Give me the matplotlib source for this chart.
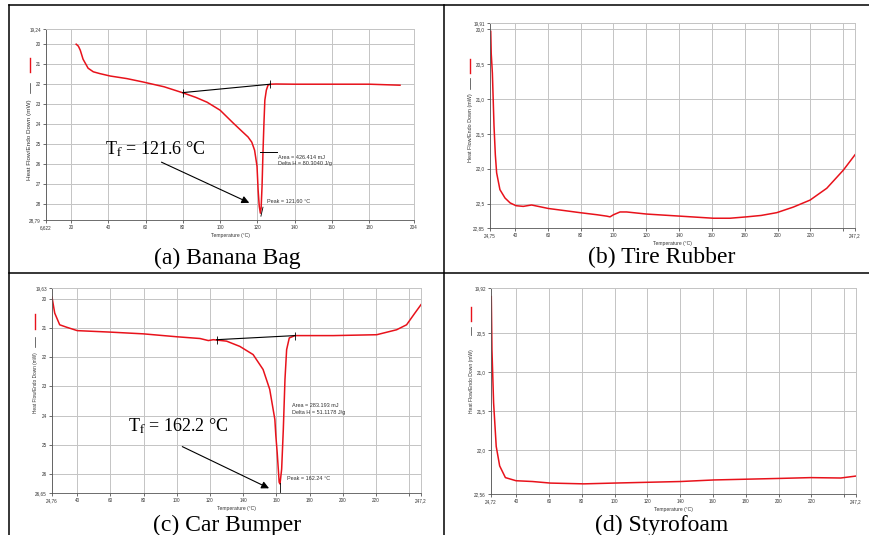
import matplotlib
matplotlib.use("Agg")
import matplotlib.pyplot as plt
from matplotlib.lines import Line2D

plt.rcParams['font.family'] = ['Liberation Sans', 'DejaVu Sans']
plt.rcParams['mathtext.fontset'] = 'stix'

W, H = 870, 535

# ---- (a) Banana Bag ----
a_temp = [22.8, 23.3, 24.0, 25.0, 26.5, 28.0, 29.2, 32.0, 35.5, 41.0, 50.0, 58.7, 70.0, 80.0,
          87.0, 93.0, 100.0, 107.0, 112.0, 115.0, 117.0, 118.5, 119.8, 120.4, 121.0, 121.6,
          122.0, 122.5, 123.0, 123.5, 124.0, 124.8, 125.7, 127.0, 130.0, 140.0, 160.0, 180.0, 196.5]
a_flow = [20.0, 20.04, 20.1, 20.3, 20.75, 21.0, 21.2, 21.38, 21.47, 21.59, 21.72, 21.89, 22.13, 22.43,
          22.66, 22.9, 23.3, 23.94, 24.38, 24.64, 24.9, 25.3, 26.1, 27.3, 28.1, 28.45,
          28.2, 27.1, 25.4, 24.0, 22.8, 22.3, 22.05, 22.0, 21.99, 22.0, 22.0, 22.0, 22.05]
a_base_t = [80.0, 127.0]
a_base_f = [22.42, 22.0]
a_xticks = [6.622, 20, 40, 60, 80, 100, 120, 140, 160, 180, 204]
a_xlabels = ['6,622', '20', '40', '60', '80', '100', '120', '140', '160', '180', '204']
a_yticks = [19.24, 20, 21, 22, 23, 24, 25, 26, 27, 28, 28.79]
a_ylabels = ['19,24', '20', '21', '22', '23', '24', '25', '26', '27', '28', '28,79']

# ---- (b) Tire Rubber ----
b_temp = [25.2, 25.5, 26.2, 27.2, 28.0, 28.8, 30.8, 33.9, 37.0, 40.6, 45.0, 50.1, 60.3, 70.0,
          79.6, 90.0, 95.9, 97.9, 100.0, 104.0, 108.0, 120.2, 140.6, 160.9, 171.0, 181.2,
          190.0, 199.5, 209.6, 219.8, 230.0, 240.1, 247.2]
b_flow = [20.03, 20.35, 20.63, 21.39, 21.8, 22.06, 22.30, 22.42, 22.49, 22.53, 22.54, 22.52, 22.57, 22.60,
          22.63, 22.66, 22.68, 22.69, 22.66, 22.62, 22.62, 22.65, 22.68, 22.71, 22.71, 22.69,
          22.67, 22.63, 22.55, 22.45, 22.28, 22.02, 21.80]
b_xticks = [24.75, 40, 60, 80, 100, 120, 140, 160, 180, 200, 220, 240, 247.2]
b_xlabels = ['24,75', '40', '60', '80', '100', '120', '140', '160', '180', '200', '220', '', '247,2']
b_yticks = [19.91, 20.0, 20.5, 21.0, 21.5, 22.0, 22.5, 22.85]
b_ylabels = ['19,91', '20,0', '20,5', '21,0', '21,5', '22,0', '22,5', '22,85']

# ---- (c) Car Bumper ----
c_temp = [24.76, 26.4, 29.4, 33.4, 40.0, 59.7, 79.8, 100.0, 114.0, 119.0, 122.0, 130.0, 138.0,
          146.0, 152.0, 156.0, 159.1, 159.7, 160.5, 161.7, 162.2, 163.2, 164.2, 165.2, 166.2,
          167.8, 171.2, 194.3, 220.5, 232.5, 238.5, 243.5, 247.2]
c_flow = [19.94, 20.49, 20.89, 20.97, 21.09, 21.14, 21.2, 21.3, 21.36, 21.43, 21.40, 21.45, 21.63,
          21.91, 22.42, 23.1, 24.13, 24.69, 25.26, 26.28, 26.34, 25.83, 24.47, 22.76, 21.74,
          21.34, 21.26, 21.26, 21.23, 21.06, 20.89, 20.49, 20.2]
c_base_t = [124.0, 171.2]
c_base_f = [21.40, 21.26]
c_xticks = [24.76, 40, 60, 80, 100, 120, 140, 160, 180, 200, 220, 240, 247.2]
c_xlabels = ['24,76', '40', '60', '80', '100', '120', '140', '160', '180', '200', '220', '', '247,2']
c_yticks = [19.63, 20, 21, 22, 23, 24, 25, 26, 26.65]
c_ylabels = ['19,63', '20', '21', '22', '23', '24', '25', '26', '26,65']

# ---- (d) Styrofoam ----
d_temp = [24.9, 25.3, 26.3, 27.9, 30.0, 33.5, 40.0, 50.0, 60.9, 81.3, 99.6, 120.0, 140.3,
          160.6, 181.0, 201.3, 219.6, 237.9, 247.2]
d_flow = [20.03, 20.71, 21.39, 21.95, 22.2, 22.35, 22.39, 22.40, 22.42, 22.43, 22.42, 22.41, 22.40,
          22.38, 22.37, 22.36, 22.35, 22.355, 22.33]
d_xticks = [24.72, 40, 60, 80, 100, 120, 140, 160, 180, 200, 220, 240, 247.2]
d_xlabels = ['24,72', '40', '60', '80', '100', '120', '140', '160', '180', '200', '220', '', '247,2']
d_yticks = [19.92, 20.5, 21.0, 21.5, 22.0, 22.56]
d_ylabels = ['19,92', '20,5', '21,0', '21,5', '22,0', '22,56']

captions = ['(a) Banana Bag', '(b) Tire Rubber', '(c) Car Bumper', '(d) Styrofoam']

RED = '#e8121b'
GRID = '#c4c4c4'


def px_box(l, r, t, b):
    return [l / W, 1 - b / H, (r - l) / W, (b - t) / H]


def setup(ax, xt, xl, yt, yl, lab_x, lab_y, lab_fs, seg_b, seg_r):
    ax.set_xlim(xt[0], xt[-1])
    ax.set_ylim(yt[-1], yt[0])   # endo down: axis runs top->bottom
    ax.set_xticks(xt)
    ax.set_xticklabels(xl)
    ax.set_yticks(yt)
    ax.set_yticklabels(yl)
    ax.tick_params(labelsize=3.3, length=2.5, width=0.5, pad=1.2, colors='#333333')
    ax.grid(True, color=GRID, lw=0.7)
    ax.set_axisbelow(True)
    for s in ['top', 'right']:
        ax.spines[s].set_color(GRID)
        ax.spines[s].set_linewidth(0.7)
    for s in ['left', 'bottom']:
        ax.spines[s].set_color('#555555')
        ax.spines[s].set_linewidth(0.6)
    ax.set_xlabel('Temperature (°C)', fontsize=3.6, labelpad=2, color='#333333')
    ax.text(lab_x, lab_y, 'Heat Flow/Endo Down (mW)', transform=ax.transAxes, rotation=90,
            fontsize=lab_fs, ha='center', va='center', color='#333333')
    ax.plot([lab_x, lab_x], seg_b, transform=ax.transAxes, color='#333333', lw=0.5, clip_on=False)
    ax.plot([lab_x, lab_x], seg_r, transform=ax.transAxes, color=RED, lw=1.0, clip_on=False)


fig = plt.figure(figsize=(W / 100, H / 100), dpi=100)

# table frame
for (x0, x1, y0, y1) in [(9, 870, 5, 5), (9, 9, 5, 535), (444, 444, 5, 535), (9, 870, 272.7, 272.7)]:
    fig.add_artist(Line2D([x0 / W, x1 / W], [1 - y0 / H, 1 - y1 / H], color='black', lw=1.1))

# (a)
ax = fig.add_axes(px_box(46, 414, 29, 220))
setup(ax, a_xticks, a_xlabels, a_yticks, a_ylabels, -0.044, 0.42, 4.6, [0.665, 0.717], [0.775, 0.848])
ax.plot(a_temp, a_flow, color=RED, lw=1.1)
ax.plot(a_base_t, a_base_f, color='black', lw=0.8, marker='|', ms=6, mew=0.6)
ax.plot([121.4, 130.5], [25.4, 25.4], color='black', lw=0.7)
ax.plot([121.9, 123.0], [28.6, 28.15], color='black', lw=0.6)
ax.text(130.8, 25.64, 'Area = 426.414 mJ', fontsize=4, va='center', color='#333333')
ax.text(130.8, 25.99, 'Delta H = 80.3040 J/g', fontsize=4, va='center', color='#333333')
ax.text(125.0, 27.85, 'Peak = 121.60 °C', fontsize=4, va='center', color='#333333')
ax.text(38.3, 25.25, r'T$_\mathrm{f}$ = 121.6 °C', fontsize=13, family='Liberation Serif',
        va='center', ha='left')
ax.annotate('', xy=(117.0, 27.99), xytext=(67.2, 25.84),
            arrowprops=dict(arrowstyle='-|>', color='black', lw=0.8, mutation_scale=11))

# (b)
ax = fig.add_axes(px_box(490, 855, 23, 228))
setup(ax, b_xticks, b_xlabels, b_yticks, b_ylabels, -0.054, 0.49, 3.9, [0.68, 0.73], [0.756, 0.824])
ax.plot(b_temp, b_flow, color=RED, lw=1.1)

# (c)
ax = fig.add_axes(px_box(52, 421, 288, 493))
setup(ax, c_xticks, c_xlabels, c_yticks, c_ylabels, -0.046, 0.54, 3.4, [0.71, 0.76], [0.80, 0.875])
ax.plot(c_temp, c_flow, color=RED, lw=1.1)
ax.plot(c_base_t, c_base_f, color='black', lw=0.8, marker='|', ms=6, mew=0.6)
ax.plot([162.2, 162.2], [26.3, 26.6], color='black', lw=0.6)
ax.text(169.2, 23.65, 'Area = 283.193 mJ', fontsize=4, va='center', color='#333333')
ax.text(169.2, 23.9, 'Delta H = 51.1178 J/g', fontsize=4, va='center', color='#333333')
ax.text(166.6, 26.17, 'Peak = 162.24 °C', fontsize=4, va='center', color='#333333')
ax.text(70.6, 24.35, r'T$_\mathrm{f}$ = 162.2 °C', fontsize=13, family='Liberation Serif',
        va='center', ha='left')
ax.annotate('', xy=(157.1, 26.53), xytext=(101.8, 25.02),
            arrowprops=dict(arrowstyle='-|>', color='black', lw=0.8, mutation_scale=11))

# (d)
ax = fig.add_axes(px_box(491, 856, 288, 494))
setup(ax, d_xticks, d_xlabels, d_yticks, d_ylabels, -0.054, 0.55, 3.6, [0.77, 0.81], [0.84, 0.91])
ax.plot(d_temp, d_flow, color=RED, lw=1.1)

# captions
cap_pos = [(227, 258), (662, 257), (227, 525), (662, 525)]
for txt, (cx, cy) in zip(captions, cap_pos):
    fig.text(cx / W, 1 - cy / H, txt, fontsize=17, family='Liberation Serif', ha='center', va='center')

fig.savefig('out.png', dpi=100)
